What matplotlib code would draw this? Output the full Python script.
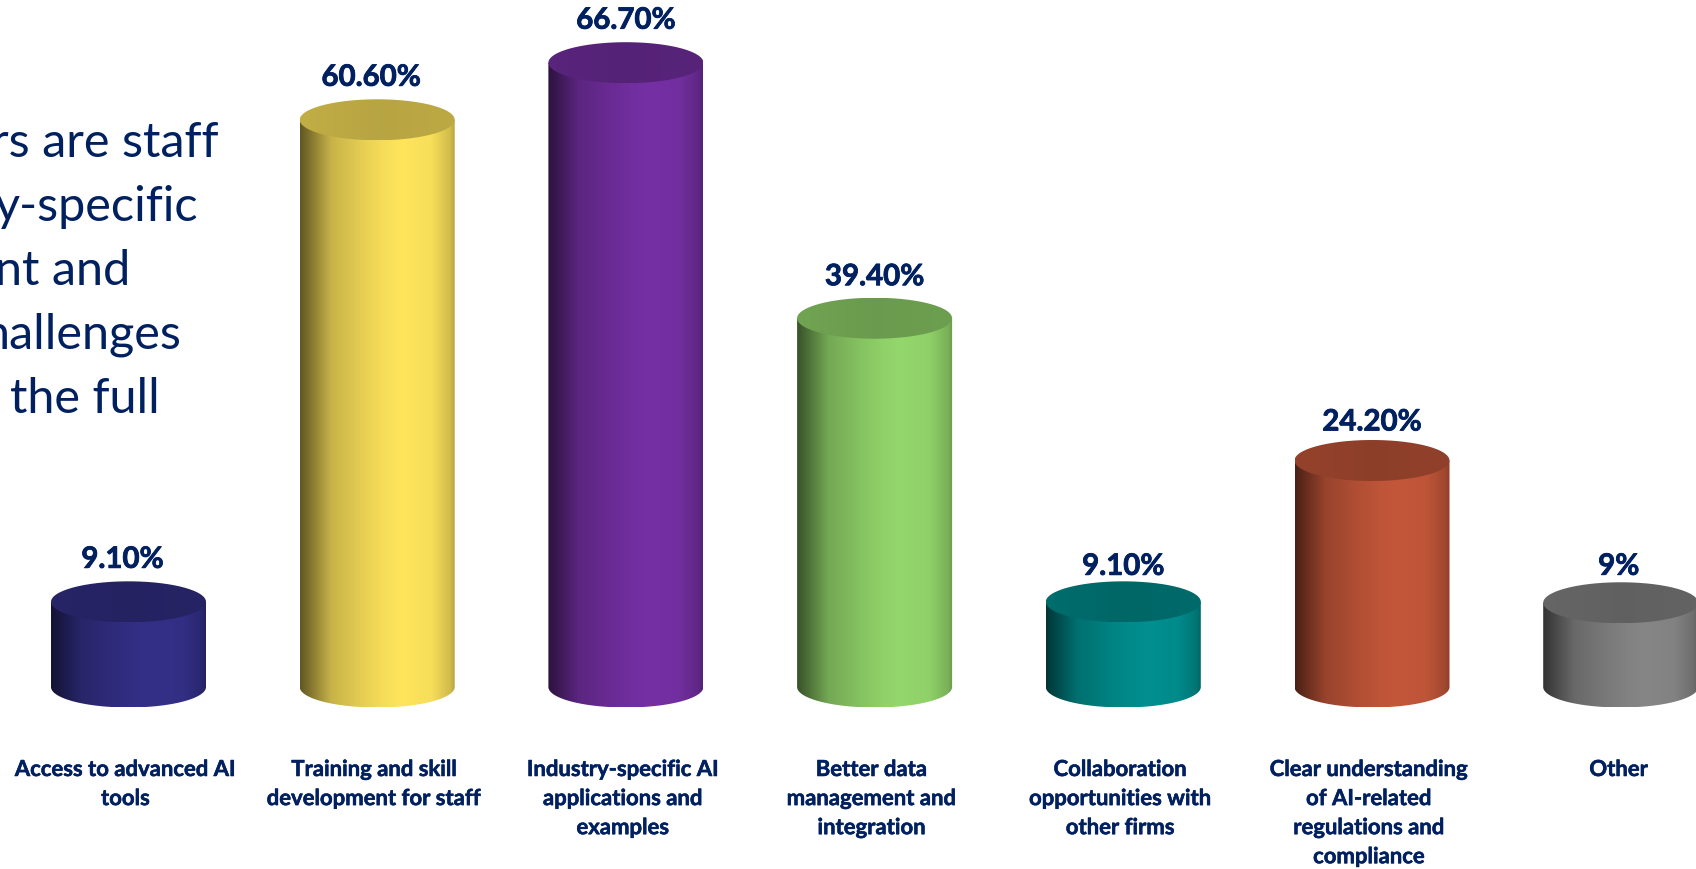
import numpy as np
import matplotlib
matplotlib.use("Agg")
import matplotlib.pyplot as plt
import matplotlib.patheffects as pe
from matplotlib.path import Path
from matplotlib.patches import PathPatch

categories = [
    "Access to advanced AI\ntools",
    "Training and skill\ndevelopment for staff",
    "Industry-specific AI\napplications and\nexamples",
    "Better data\nmanagement and\nintegration",
    "Collaboration\nopportunities with\nother firms",
    "Clear understanding\nof AI-related\nregulations and\ncompliance",
    "Other",
]
values = [9.1, 60.6, 66.7, 39.4, 9.1, 24.2, 9.0]
value_labels = ["9.10%", "60.60%", "66.70%", "39.40%", "9.10%", "24.20%", "9%"]
colors = ["#343088", "#FFE55C", "#7530A4", "#94D76C", "#008F8F", "#C4573A", "#868686"]

side_lines = ["rs are staff", "y-specific", "nt and", "hallenges", "the full"]
side_right = [218, 198, 130, 181, 160]

# small nudges of the text relative to its bar
value_dx = [-6, -6, 0, 0, 0, 0, -2]
value_dy = [42, 42, 42, 41, 35, 38, 36]
cat_dx = [-3, -3, -3, -3, -3, -3, -2]

W, H = 1696, 869
x0, step = 128.5, 248.7
y0, scale = 687.0, 9.36
half_w = 77.5 / step
half_h = 20.5 / scale

navy = "#002060"
plt.rcParams["font.family"] = ["Lato", "DejaVu Sans"]

fig = plt.figure(figsize=(W / 100, H / 100), dpi=100)
ax = fig.add_axes([0, 0, 1, 1])
ax.axis("off")


def shade(color, stops, levels):
    # horizontal gradient of a base colour
    rgb = np.array(matplotlib.colors.to_rgb(color))
    t = np.linspace(0, 1, 300)
    k = np.interp(t, stops, levels)
    return np.clip(k[None, :, None] * rgb, 0, 1)


side_stops = [0, 0.06, 0.2, 0.4, 0.55, 0.66, 0.85, 0.97, 1]
side_levels = [0.38, 0.5, 0.78, 0.9, 0.97, 1.0, 0.97, 0.82, 0.72]
top_stops = [0, 0.5, 1]
top_levels = [0.76, 0.72, 0.74]

heavy = [pe.withStroke(linewidth=0.6, foreground=navy)]
heavy_small = [pe.withStroke(linewidth=0.4, foreground=navy)]

theta = np.linspace(0, 2 * np.pi, 200)
lower = np.linspace(np.pi, 2 * np.pi, 100)

for i, (v, c) in enumerate(zip(values, colors)):
    # body with rounded bottom edge
    xs = np.concatenate([i + half_w * np.cos(lower), [i + half_w, i - half_w]])
    ys = np.concatenate([half_h * np.sin(lower), [v, v]])
    body = PathPatch(Path(np.column_stack([xs, ys])), transform=ax.transData, fc="none", ec="none")
    ax.add_patch(body)
    im = ax.imshow(shade(c, side_stops, side_levels), aspect="auto", zorder=2,
                   extent=[i - half_w, i + half_w, -half_h, v], interpolation="bilinear")
    im.set_clip_path(body)

    # lid
    lid = PathPatch(Path(np.column_stack([i + half_w * np.cos(theta), v + half_h * np.sin(theta)])),
                    transform=ax.transData, fc="none", ec="none")
    ax.add_patch(lid)
    im2 = ax.imshow(shade(c, top_stops, top_levels), aspect="auto", zorder=3,
                    extent=[i - half_w, i + half_w, v - half_h, v + half_h], interpolation="bilinear")
    im2.set_clip_path(lid)

    ax.annotate(value_labels[i], xy=(i, v), xytext=(value_dx[i] * 0.72, value_dy[i] * 0.72),
                textcoords="offset points", ha="center", va="center",
                fontsize=21.2, fontweight="bold", color=navy, zorder=5, path_effects=heavy)
    ax.annotate(categories[i], xy=(i, 0), xytext=(cat_dx[i] * 0.72, -72 * 0.72),
                textcoords="offset points", ha="center", va="top", linespacing=1.475,
                fontsize=15.9, fontweight="bold", color=navy, zorder=5, path_effects=heavy_small)

for n, line in enumerate(side_lines):
    fig.text(side_right[n] / W, 1 - (143 + 64 * n) / H, line, ha="right", va="center",
             fontsize=35, color=navy)

ax.set_xlim(-x0 / step, (W - x0) / step)
ax.set_ylim((y0 - H) / scale, y0 / scale)

fig.savefig("out.png", dpi=100, facecolor="white")
